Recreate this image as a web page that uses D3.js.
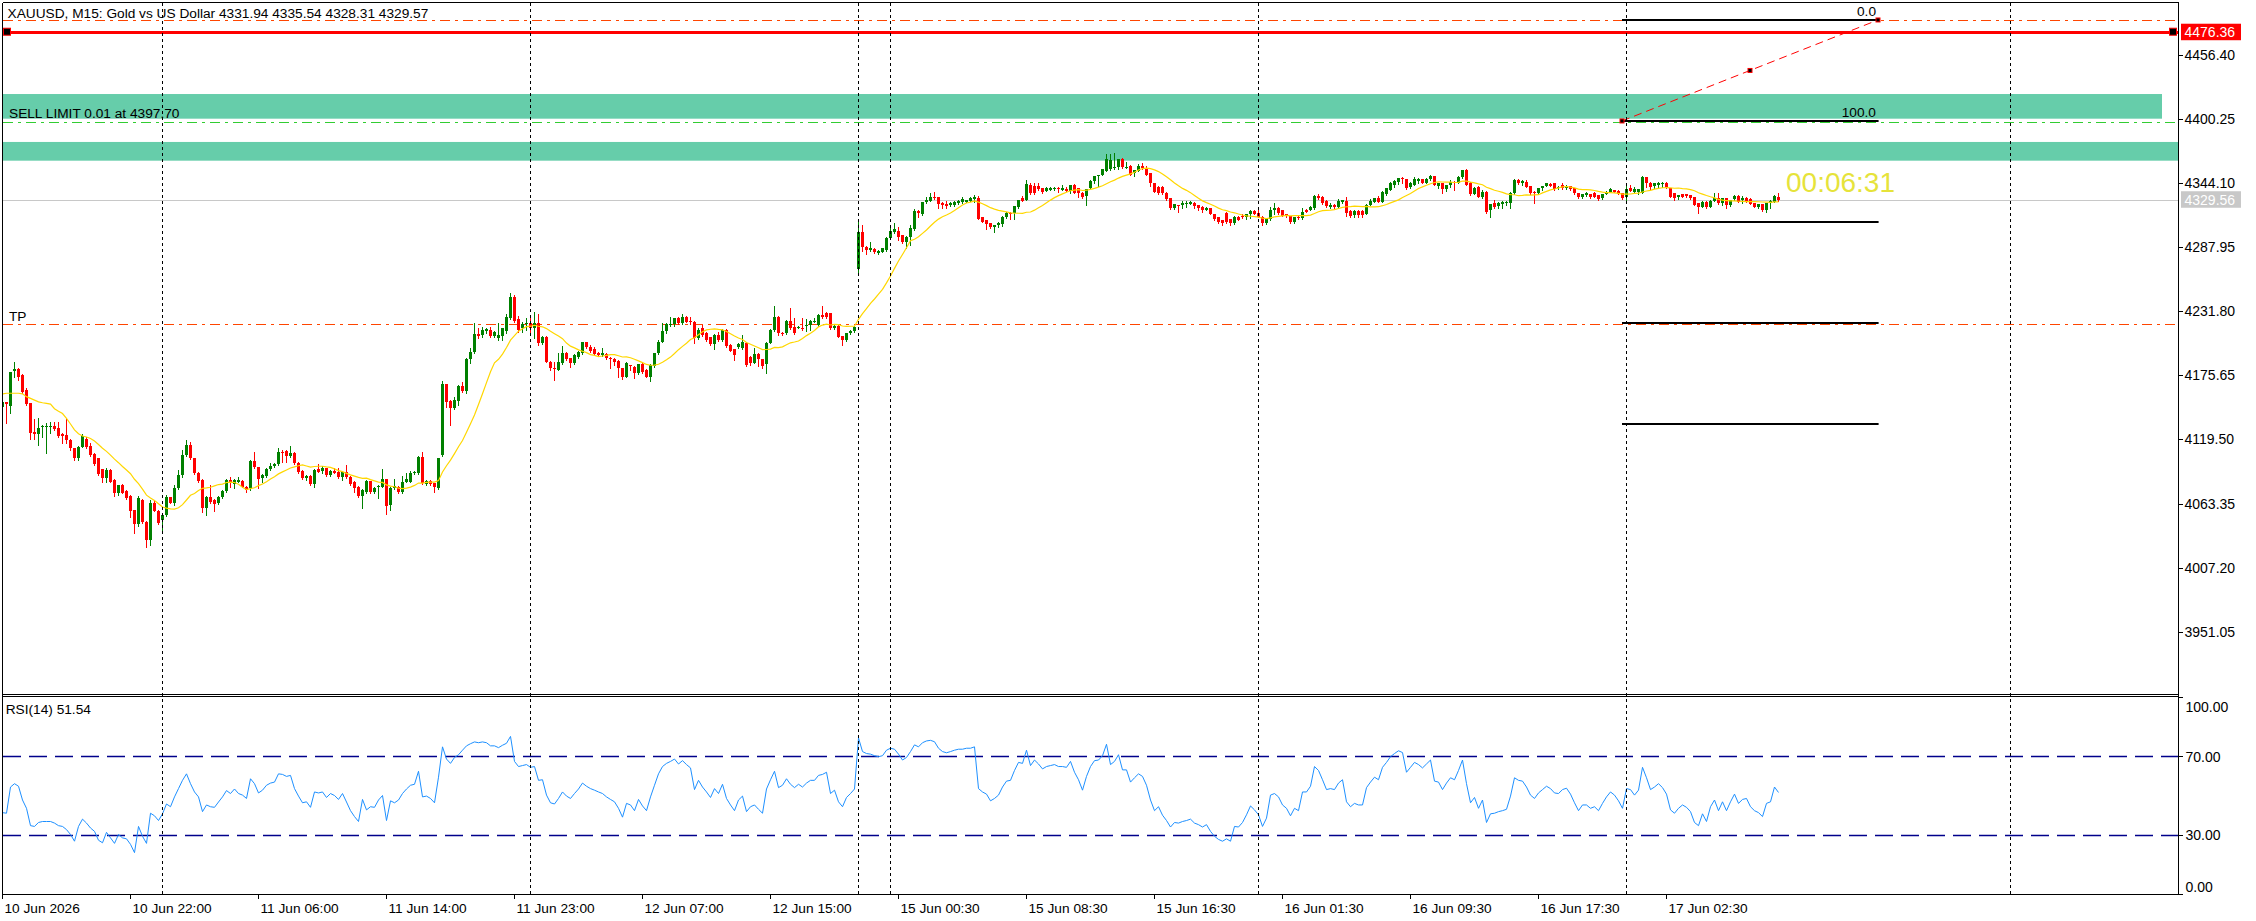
<!DOCTYPE html>
<html><head><meta charset="utf-8">
<script src="https://cdn.jsdelivr.net/npm/d3@7"></script>
<style>html,body{margin:0;padding:0;background:#fff;overflow:hidden}</style>
</head><body>
<svg id="c" width="2256" height="921"></svg>
<script>
// ---------------- DATA ----------------
const symbolTitle = "XAUUSD, M15:  Gold vs US Dollar  4331.94 4335.54 4328.31 4329.57";
// M15 candles [open, high, low, close]
const ohlc = [
[4148.2,4153.5,4147.3,4152.6],[4152.0,4152.6,4134.2,4150.5],[4149.1,4179.0,4143.0,4178.6],[4179.7,4187.3,4174.5,4180.9],[4181.5,4182.0,4171.6,4174.5],
[4176.2,4176.5,4160.0,4160.8],[4162.8,4164.3,4150.0,4150.8],[4151.1,4151.5,4119.6,4125.4],[4125.9,4137.1,4119.6,4124.2],[4124.2,4138.3,4114.6,4129.5],
[4130.1,4132.5,4121.9,4131.6],[4130.7,4134.2,4107.9,4131.0],[4130.7,4135.1,4125.4,4131.0],[4131.0,4135.1,4127.5,4128.3],[4129.5,4135.1,4121.3,4122.5],
[4124.2,4124.8,4116.1,4122.5],[4123.4,4137.1,4116.1,4119.0],[4119.0,4119.6,4110.2,4111.7],[4111.7,4112.0,4101.5,4102.9],[4102.9,4114.0,4101.5,4113.1],
[4113.1,4124.2,4112.5,4122.5],[4119.6,4122.0,4112.0,4113.1],[4114.0,4116.1,4105.0,4105.8],[4106.7,4107.5,4097.0,4097.9],[4102.9,4103.5,4088.0,4089.2],
[4093.3,4094.0,4082.5,4085.4],[4085.4,4094.2,4082.5,4092.7],[4092.7,4093.5,4082.0,4082.5],[4083.9,4084.5,4069.9,4072.8],[4072.8,4080.0,4070.8,4079.6],
[4079.6,4080.5,4072.2,4072.8],[4074.6,4075.5,4067.0,4067.9],[4069.9,4070.5,4051.2,4057.1],[4057.6,4058.0,4037.2,4045.4],[4045.4,4069.9,4044.0,4067.9],
[4066.4,4067.5,4046.0,4047.4],[4047.4,4048.0,4025.5,4031.4],[4031.4,4066.4,4027.0,4063.5],[4063.5,4066.0,4056.5,4057.1],[4057.1,4057.6,4045.4,4046.0],
[4048.9,4054.1,4037.2,4053.3],[4053.3,4070.8,4052.0,4068.8],[4068.8,4069.5,4063.5,4064.1],[4064.1,4079.6,4062.0,4076.9],[4076.9,4092.7,4076.0,4088.3],
[4088.3,4110.2,4087.0,4105.8],[4105.8,4119.0,4105.0,4114.6],[4114.6,4117.5,4102.0,4102.9],[4102.9,4103.5,4089.5,4090.4],[4090.4,4091.0,4082.5,4083.1],
[4083.9,4084.5,4056.2,4059.1],[4059.1,4070.0,4053.3,4068.8],[4068.8,4079.6,4064.0,4065.0],[4066.4,4067.0,4057.1,4062.9],[4064.1,4070.0,4063.0,4069.3],
[4069.3,4075.0,4068.5,4074.3],[4074.3,4085.0,4073.7,4083.9],[4083.9,4086.9,4078.1,4081.0],[4080.4,4084.5,4076.6,4083.9],[4082.5,4086.9,4082.0,4083.9],
[4083.1,4084.0,4077.5,4078.1],[4078.1,4078.7,4073.1,4075.2],[4076.6,4101.5,4075.5,4100.6],[4100.6,4108.2,4094.5,4095.0],[4095.0,4095.5,4076.6,4084.5],
[4085.4,4089.0,4082.5,4088.3],[4087.4,4094.5,4086.5,4093.9],[4093.9,4098.9,4093.0,4096.0],[4096.0,4099.0,4095.0,4098.3],[4097.7,4111.7,4097.0,4108.2],
[4108.8,4110.0,4100.0,4108.2],[4109.3,4110.0,4100.0,4104.8],[4104.8,4114.0,4104.0,4107.9],[4107.9,4108.5,4098.0,4098.6],[4099.1,4099.5,4090.5,4091.2],
[4092.1,4092.7,4084.5,4085.4],[4085.4,4088.0,4083.9,4087.4],[4087.4,4088.0,4079.5,4080.4],[4080.4,4093.3,4078.1,4092.7],[4093.3,4098.0,4091.0,4091.2],
[4092.1,4096.2,4090.4,4094.2],[4094.2,4094.8,4087.5,4088.3],[4088.3,4092.7,4087.5,4092.1],[4092.1,4094.2,4089.8,4090.4],[4091.2,4094.2,4086.0,4086.9],
[4086.9,4092.0,4083.9,4091.2],[4091.2,4097.1,4086.0,4086.9],[4086.9,4087.5,4079.8,4080.4],[4082.5,4083.0,4073.1,4076.6],[4078.1,4078.7,4069.3,4070.2],
[4070.2,4076.0,4059.1,4075.2],[4073.7,4083.9,4072.8,4083.1],[4083.1,4083.5,4072.5,4073.1],[4073.1,4077.5,4072.2,4076.6],[4077.5,4079.5,4068.0,4078.7],
[4078.1,4093.3,4077.5,4084.5],[4084.5,4085.0,4054.1,4061.2],[4062.0,4077.5,4057.6,4076.6],[4076.6,4084.5,4076.0,4078.7],[4078.1,4078.7,4073.0,4073.7],
[4073.7,4087.4,4073.0,4082.5],[4082.5,4089.8,4082.0,4084.5],[4082.5,4092.1,4082.0,4089.8],[4089.8,4092.0,4089.0,4091.2],[4089.8,4105.0,4089.0,4104.4],
[4104.4,4108.2,4080.4,4081.0],[4080.4,4084.0,4080.0,4083.4],[4083.1,4083.9,4079.8,4080.4],[4081.0,4081.5,4073.1,4077.5],[4076.6,4103.5,4076.0,4102.9],
[4105.8,4171.0,4105.0,4168.1],[4168.1,4168.5,4148.0,4152.6],[4153.5,4154.0,4132.1,4147.3],[4147.3,4156.4,4146.5,4154.0],[4153.5,4167.2,4149.7,4166.3],
[4166.3,4170.1,4161.0,4161.9],[4161.9,4190.5,4160.0,4189.7],[4189.7,4199.3,4186.8,4196.4],[4196.4,4221.3,4195.5,4211.9],[4211.9,4216.9,4208.1,4210.1],
[4211.0,4218.3,4209.0,4215.4],[4214.8,4217.5,4213.0,4216.0],[4215.4,4218.3,4209.6,4210.1],[4210.1,4214.5,4209.0,4213.9],[4208.1,4221.2,4206.6,4211.0],
[4210.1,4217.5,4206.6,4216.9],[4214.8,4229.1,4213.0,4227.1],[4225.6,4247.5,4225.0,4244.0],[4244.0,4246.1,4222.0,4223.6],[4224.8,4227.7,4214.0,4215.4],
[4216.9,4222.0,4213.9,4220.7],[4220.7,4225.6,4215.4,4221.2],[4221.2,4227.1,4212.5,4216.9],[4217.5,4231.5,4208.1,4221.8],[4221.8,4229.4,4202.0,4203.7],
[4203.7,4210.0,4203.0,4209.0],[4209.0,4210.0,4187.0,4187.7],[4187.7,4188.0,4180.3,4181.8],[4182.4,4187.7,4171.6,4180.9],[4180.3,4194.9,4180.0,4187.7],
[4186.8,4201.4,4186.0,4195.5],[4195.5,4196.0,4189.0,4189.7],[4190.6,4191.0,4183.3,4186.2],[4186.2,4194.0,4185.6,4193.5],[4192.0,4197.0,4191.0,4196.4],
[4194.9,4205.2,4194.4,4204.6],[4204.6,4205.2,4199.5,4200.2],[4200.8,4202.3,4196.4,4197.3],[4198.5,4200.8,4193.5,4194.4],[4194.9,4196.0,4192.6,4193.5],
[4193.5,4199.3,4193.0,4194.9],[4194.4,4195.0,4190.0,4190.6],[4191.2,4191.5,4182.4,4189.7],[4190.0,4190.6,4184.7,4187.7],[4188.3,4189.0,4174.5,4181.8],
[4181.8,4182.4,4172.2,4173.9],[4174.5,4187.7,4174.0,4186.8],[4184.4,4184.7,4180.3,4183.9],[4183.3,4183.9,4173.0,4177.4],[4177.4,4186.0,4177.0,4185.3],
[4185.3,4186.2,4178.0,4178.9],[4180.3,4181.0,4174.0,4174.5],[4174.5,4185.3,4171.0,4184.7],[4183.9,4195.5,4183.0,4194.9],[4194.9,4206.6,4194.4,4205.2],
[4205.2,4221.2,4204.6,4214.8],[4214.8,4221.2,4212.5,4220.7],[4219.8,4227.1,4219.0,4220.7],[4220.7,4226.0,4218.9,4225.6],[4225.6,4227.1,4220.5,4221.2],
[4221.2,4229.1,4220.5,4227.1],[4227.1,4228.0,4222.0,4222.7],[4223.6,4226.5,4220.7,4222.7],[4222.7,4223.3,4203.7,4208.1],[4208.1,4216.9,4207.5,4215.4],
[4216.9,4219.8,4210.5,4211.0],[4212.5,4213.9,4206.0,4206.6],[4209.0,4209.6,4202.5,4203.1],[4203.1,4211.5,4198.5,4211.0],[4211.0,4213.9,4206.0,4206.6],
[4206.6,4216.0,4206.0,4215.4],[4215.4,4216.0,4200.8,4201.4],[4202.3,4202.8,4196.8,4197.3],[4198.5,4199.0,4189.1,4193.5],[4200.8,4204.0,4200.0,4203.1],
[4199.3,4211.0,4199.0,4205.2],[4204.3,4205.0,4184.0,4184.7],[4192.0,4192.6,4184.7,4186.2],[4186.8,4199.3,4186.2,4194.4],[4194.4,4195.0,4183.9,4189.7],
[4189.7,4190.2,4181.8,4183.9],[4185.6,4205.0,4178.0,4204.3],[4204.3,4216.0,4203.7,4215.4],[4215.4,4236.4,4214.8,4227.1],[4227.1,4227.7,4211.0,4212.5],
[4213.1,4213.9,4211.0,4211.9],[4212.5,4224.0,4212.0,4223.6],[4223.6,4234.4,4216.3,4216.9],[4218.3,4225.6,4212.0,4212.5],[4217.8,4219.0,4217.0,4218.3],
[4217.5,4225.6,4215.5,4216.3],[4219.8,4224.8,4214.5,4220.1],[4219.8,4224.0,4215.4,4223.3],[4222.7,4225.6,4222.0,4223.6],[4219.8,4229.1,4219.0,4228.6],
[4228.6,4236.4,4226.0,4226.5],[4230.0,4231.0,4226.0,4226.5],[4230.0,4230.5,4216.3,4216.9],[4216.9,4219.5,4216.0,4218.9],[4218.9,4219.5,4209.0,4209.6],
[4210.1,4210.5,4202.3,4206.6],[4206.6,4213.0,4206.0,4212.5],[4212.5,4215.0,4212.0,4214.5],[4214.5,4218.9,4214.0,4218.3],[4268.6,4310.3,4263.6,4301.6],
[4301.6,4307.4,4285.0,4288.4],[4288.4,4289.0,4282.0,4285.5],[4285.5,4292.2,4285.0,4287.0],[4286.4,4287.0,4283.0,4283.5],[4283.2,4285.5,4281.7,4284.9],
[4284.1,4287.5,4283.5,4287.0],[4285.5,4296.6,4285.0,4295.7],[4295.7,4305.0,4295.0,4302.5],[4301.6,4308.9,4300.7,4303.6],[4302.5,4305.4,4294.3,4297.2],
[4298.7,4299.0,4291.4,4292.8],[4292.8,4297.5,4287.0,4297.2],[4297.2,4307.4,4289.9,4304.5],[4303.6,4321.2,4303.0,4320.0],[4320.0,4320.3,4314.1,4317.6],
[4317.1,4328.0,4316.5,4327.6],[4327.6,4332.3,4327.0,4329.3],[4328.8,4335.8,4328.5,4331.7],[4331.7,4336.6,4330.5,4330.8],[4331.7,4332.0,4322.0,4325.8],
[4327.0,4327.5,4322.0,4324.9],[4325.8,4328.8,4322.0,4324.1],[4324.9,4327.5,4324.5,4327.0],[4324.9,4328.5,4324.1,4327.9],[4326.4,4329.0,4326.0,4328.5],
[4327.6,4331.7,4327.0,4329.9],[4327.9,4329.6,4327.5,4329.3],[4328.8,4332.3,4328.5,4330.8],[4329.9,4333.7,4327.9,4331.7],[4330.8,4332.8,4312.3,4312.7],
[4314.1,4314.5,4310.0,4310.3],[4311.8,4312.0,4303.6,4308.3],[4308.9,4309.2,4304.5,4305.4],[4305.4,4307.7,4301.6,4307.4],[4307.4,4309.8,4305.4,4309.5],
[4308.3,4315.0,4306.5,4314.7],[4314.7,4319.1,4314.0,4317.6],[4318.2,4319.1,4312.4,4317.1],[4318.2,4324.5,4312.4,4324.1],[4323.5,4329.6,4322.0,4329.3],
[4330.8,4332.8,4328.5,4328.8],[4329.3,4346.9,4329.0,4343.3],[4342.5,4343.9,4335.0,4335.2],[4341.6,4344.5,4335.0,4335.2],[4341.6,4343.9,4338.4,4338.7],
[4339.6,4340.0,4335.8,4336.6],[4337.5,4341.0,4337.2,4339.6],[4338.1,4341.0,4337.8,4339.6],[4338.7,4341.0,4338.4,4340.1],[4340.1,4340.4,4336.6,4338.7],
[4338.1,4342.5,4337.8,4339.6],[4338.7,4340.4,4337.2,4337.5],[4337.5,4342.8,4335.8,4342.5],[4342.5,4343.3,4335.5,4335.8],[4339.6,4340.0,4332.3,4335.8],
[4335.8,4336.0,4330.8,4332.3],[4332.8,4339.0,4325.0,4338.7],[4339.6,4346.6,4339.3,4346.3],[4346.3,4350.7,4343.9,4350.4],[4350.4,4351.5,4341.6,4351.2],
[4351.2,4356.5,4350.9,4356.2],[4355.0,4369.6,4354.7,4365.0],[4356.2,4369.6,4355.9,4364.4],[4357.1,4370.2,4356.8,4358.5],[4358.0,4365.3,4356.2,4365.0],
[4365.0,4365.9,4357.7,4358.0],[4358.0,4362.9,4357.7,4358.5],[4359.1,4360.0,4350.9,4351.2],[4352.7,4355.9,4350.4,4355.6],[4355.0,4360.9,4354.7,4359.1],
[4359.1,4361.5,4356.8,4357.1],[4357.1,4359.1,4350.9,4351.2],[4352.7,4353.0,4341.6,4343.9],[4343.9,4344.2,4336.3,4336.6],[4340.4,4341.6,4334.9,4335.2],
[4341.0,4341.3,4334.9,4335.2],[4335.8,4336.1,4329.6,4329.9],[4330.8,4331.1,4321.7,4322.0],[4322.0,4326.1,4321.7,4325.8],[4324.9,4325.2,4319.1,4324.1],
[4324.9,4328.8,4322.0,4326.4],[4325.8,4328.8,4323.5,4327.0],[4325.8,4328.8,4325.5,4327.6],[4327.0,4327.3,4322.0,4324.1],[4324.9,4325.2,4320.6,4322.0],
[4323.5,4323.8,4319.1,4320.6],[4320.6,4322.9,4320.3,4322.0],[4322.0,4322.3,4316.8,4317.1],[4317.1,4317.4,4311.8,4312.7],[4314.1,4314.4,4309.5,4310.3],
[4311.8,4312.1,4307.4,4309.5],[4318.2,4318.5,4309.5,4310.3],[4312.4,4312.7,4307.4,4309.5],[4309.5,4315.0,4308.3,4314.7],[4314.7,4315.3,4311.5,4311.8],
[4315.3,4317.1,4313.8,4314.1],[4314.1,4317.4,4312.4,4317.1],[4317.1,4320.3,4313.3,4320.0],[4320.0,4320.6,4316.8,4317.1],[4318.2,4320.6,4314.4,4314.7],
[4314.7,4315.0,4307.4,4308.9],[4308.9,4312.7,4308.6,4312.4],[4312.4,4322.9,4312.1,4320.6],[4320.6,4326.4,4317.1,4322.0],[4322.0,4323.5,4317.3,4317.6],
[4320.6,4320.9,4315.0,4315.3],[4317.1,4317.4,4314.1,4315.3],[4315.3,4315.6,4308.9,4310.3],[4310.3,4314.4,4308.9,4314.1],[4314.7,4315.3,4313.0,4313.3],
[4313.3,4322.0,4313.0,4319.1],[4320.6,4321.2,4318.8,4319.1],[4320.6,4324.1,4320.3,4323.5],[4322.0,4333.7,4321.7,4332.8],[4332.8,4334.6,4329.9,4330.8],
[4332.3,4332.6,4325.8,4327.0],[4328.8,4329.1,4322.9,4324.1],[4322.9,4327.0,4322.6,4324.9],[4324.9,4325.8,4322.0,4323.5],[4323.5,4329.9,4323.2,4328.8],
[4327.9,4329.6,4327.0,4329.3],[4328.8,4331.7,4315.3,4317.6],[4320.0,4320.3,4314.1,4315.3],[4316.2,4320.3,4314.1,4320.0],[4320.0,4320.3,4314.7,4316.2],
[4320.0,4320.3,4314.7,4316.2],[4317.1,4325.8,4316.8,4324.9],[4324.9,4329.9,4324.6,4328.8],[4327.9,4331.1,4327.6,4330.8],[4330.8,4332.8,4327.6,4327.9],
[4327.9,4336.9,4327.6,4336.6],[4334.6,4339.9,4333.7,4339.6],[4338.1,4345.4,4337.8,4343.9],[4342.5,4346.6,4341.0,4346.3],[4345.4,4348.6,4343.3,4348.3],
[4348.3,4349.8,4344.5,4347.4],[4347.4,4347.7,4339.3,4339.6],[4340.4,4345.4,4340.1,4343.9],[4342.5,4349.2,4342.2,4347.4],[4346.3,4348.3,4343.9,4347.4],
[4347.4,4348.0,4344.2,4344.5],[4344.5,4348.3,4344.2,4347.4],[4347.4,4351.2,4347.1,4350.4],[4350.4,4350.7,4342.2,4342.5],[4341.6,4344.2,4339.6,4343.9],
[4343.9,4344.2,4335.8,4338.7],[4338.7,4342.8,4337.5,4342.5],[4342.5,4346.9,4340.4,4345.4],[4345.4,4346.3,4338.1,4344.5],[4344.5,4350.4,4344.2,4349.2],
[4349.2,4355.9,4348.9,4355.6],[4355.6,4356.2,4342.2,4342.5],[4343.9,4345.4,4333.7,4334.6],[4334.6,4341.0,4334.3,4339.6],[4341.0,4341.3,4331.7,4332.3],
[4331.7,4338.1,4331.4,4336.6],[4336.6,4336.9,4317.6,4319.1],[4320.6,4326.1,4314.1,4325.8],[4327.0,4329.3,4322.0,4323.5],[4324.1,4327.3,4322.0,4327.0],
[4325.8,4328.2,4322.0,4327.9],[4326.4,4328.2,4324.9,4327.9],[4327.0,4336.1,4322.0,4335.8],[4335.2,4347.4,4334.9,4346.9],[4346.9,4347.4,4343.6,4343.9],
[4343.9,4346.6,4342.5,4346.3],[4345.4,4346.9,4340.7,4341.0],[4341.6,4341.9,4334.6,4335.8],[4336.6,4336.9,4326.4,4335.2],[4335.8,4339.9,4334.6,4339.6],
[4339.6,4341.9,4338.1,4341.6],[4341.6,4344.2,4341.3,4343.9],[4343.3,4344.5,4341.3,4341.6],[4343.9,4344.5,4338.4,4338.7],[4339.6,4341.3,4338.7,4341.0],
[4342.5,4344.5,4339.3,4339.6],[4339.6,4342.5,4339.3,4341.0],[4341.6,4341.9,4338.4,4338.7],[4339.6,4339.9,4334.9,4335.2],[4335.2,4335.5,4331.4,4331.7],
[4331.7,4334.9,4331.4,4334.6],[4333.7,4336.1,4332.8,4335.8],[4334.6,4334.9,4331.4,4331.7],[4335.2,4336.6,4332.0,4332.3],[4333.7,4334.0,4329.6,4329.9],
[4330.8,4334.9,4330.5,4334.6],[4334.6,4337.5,4334.3,4336.6],[4336.6,4339.6,4336.3,4338.7],[4338.1,4338.4,4336.3,4336.6],[4337.5,4338.1,4334.3,4334.6],
[4335.2,4335.5,4330.5,4330.8],[4332.3,4341.6,4327.9,4338.7],[4339.6,4342.5,4337.2,4337.5],[4336.6,4341.0,4336.3,4338.7],[4336.6,4339.0,4334.6,4338.7],
[4335.8,4350.4,4335.5,4349.2],[4349.2,4349.5,4341.0,4344.5],[4344.5,4344.8,4338.7,4340.4],[4341.6,4344.2,4339.6,4343.9],[4342.5,4344.8,4341.0,4344.5],
[4343.9,4345.4,4341.0,4344.5],[4344.5,4345.4,4340.1,4340.4],[4339.6,4339.9,4331.7,4332.3],[4335.2,4335.5,4329.3,4330.8],[4331.7,4334.0,4329.9,4333.7],
[4334.6,4334.9,4332.0,4332.3],[4334.6,4334.9,4331.7,4332.8],[4333.7,4334.0,4329.9,4330.8],[4331.7,4332.0,4324.6,4324.9],[4326.4,4326.7,4318.2,4323.5],
[4323.5,4328.2,4323.2,4327.9],[4327.9,4328.2,4322.0,4323.5],[4323.5,4329.1,4323.2,4328.8],[4328.8,4335.2,4328.5,4330.8],[4330.8,4335.8,4326.1,4326.4],
[4326.4,4331.1,4324.9,4330.8],[4330.8,4331.1,4322.0,4324.9],[4324.9,4329.6,4324.1,4329.3],[4329.9,4333.7,4329.6,4332.8],[4332.8,4333.7,4327.6,4327.9],
[4329.3,4332.8,4327.0,4330.8],[4330.8,4332.3,4327.6,4327.9],[4329.9,4330.8,4325.5,4325.8],[4326.4,4326.7,4322.9,4323.5],[4323.5,4326.1,4322.0,4325.8],
[4325.8,4326.1,4320.0,4320.6],[4320.6,4326.7,4319.1,4326.4],[4326.4,4329.1,4322.0,4328.8],[4327.9,4333.7,4327.6,4332.8],[4331.94,4335.54,4328.31,4329.57]
];
// RSI(14) values read per bar
const rsiValues = [
41.3,41,54.3,56,54.7,47.7,43.5,34.7,34.3,36.3,
36.8,36.8,36.8,36,34.7,34.3,32.7,30.2,26.8,34.3,
38,36,33.5,31.8,27.3,26,31.3,28.5,25.7,30.2,
28.5,28,25.2,21,34.3,29.3,25.7,41,39.7,37.3,
40.7,45.7,44.3,49.3,53.5,57.7,61,56,51.8,49.3,
41.8,45.2,44.3,44,46.7,49.3,52.5,51,53.3,51,
50.2,48.5,58.5,56,51.3,52.7,55.2,56.3,56.8,61,
60.7,59.7,60.2,53.5,49.7,46.3,46.8,44,51.8,51.3,
51.8,49,51,50,48,51,46.7,42.3,39.3,36.8,
48,42.7,44.3,44,47.7,50,37.3,47.3,46.3,47.7,
51,53.3,55.2,55.7,62.3,49.3,49.7,48.5,46.3,59.3,
74.7,68.5,66.3,69.3,70.7,73,75.2,76.3,77.2,76.8,
77.2,76.8,75.2,75.2,74.3,75.5,76.5,80,67.3,64.7,
65.2,65.7,64.3,64.7,57.7,58,50.2,46.3,45.7,48.5,
51.8,49.7,48.5,51,53.3,56.3,54.7,53.5,52.7,51.8,
51,49.3,48,46.8,43.5,39,46,45.2,42.3,48,
44.7,42.3,49.3,55.2,61,64.7,66.3,67.3,68.5,66,
67.7,65.7,64,53,57.7,54.3,51.8,49,53.5,51,
55.7,48.5,45.2,42.3,47.7,49.7,41.8,44.3,45.2,43,
41,53.3,58,62.3,54,55.2,58.5,55.7,54,55.7,
54.3,56.3,57.7,57.7,60.2,60.7,61.8,51,52.7,46.8,
44.3,49,51,53.3,79.2,72.3,71.3,71,70.2,69.7,
70.2,73,74,73.5,71,68,69.3,72.3,75.7,74.7,
76.8,77.7,78,77.3,74,72.3,71.7,72.3,73,73.5,
73.5,74,74,74.7,53.5,51.8,50.7,47.3,48.5,50.2,
54.3,57.3,57.7,62.7,66.8,66.3,73,65.2,68,66,
63.5,64.7,65.2,65.7,64.7,64.7,64.3,67.3,61.8,58,
52.7,59.7,64.7,67.7,68,70.2,76,65.7,67.3,70.7,
63,63,56.8,59,61,59.7,55.2,47.7,42.3,44.3,
40,37.3,34,36.3,36,36.8,37.3,38,36,35.2,
34,35.2,31.8,29.3,27.7,26.8,28,26.8,34.3,34,
36.3,40.2,44.7,42.7,40.2,34.3,38.5,50.2,51,49.3,
45.2,43.5,39.7,43.5,42.3,51.8,51.8,54.7,64.7,62.7,
58,53,53.5,53,56.3,58,46.8,44.3,46,45.2,
45.2,54,56.8,59.3,58,64.3,66.8,69.7,71.3,72.7,
71.8,61.8,64.3,66.8,65.7,64,66,68,57.3,56.8,
53,56.3,59,58,62.7,68,56,46.3,49,43.5,
47.7,36.3,40.7,41,41.8,42.3,43,49.7,59,57.7,
57.3,54.3,50.2,48.5,51.3,53,54.7,53.5,51.3,51,
53,53.7,50.7,46.3,42.3,45.2,45.2,43.5,44.3,42.3,
46,49.3,51.8,50.2,47.3,43.5,53.5,53,50.2,52.7,
64.3,59,53,54.3,56,54,50.7,42.7,41,43.5,
45.2,44,41.8,36.3,34.7,40.7,36.8,44.3,47.7,42.3,
46.8,42.3,46.8,50.7,46,48,48.5,44.3,42.3,41.3,
39.3,46,46.8,54.3,51.54
];
// moving-average values visible before a full 14-bar window exists
const maHead = [4159.3,4160,4160,4160,4160,4159.5,4157,4155.5,4154,4152.5,4151.7,4151.2,4150.5];
const maPeriod = 14;
const priceTicks = [4456.40,4400.25,4344.10,4287.95,4231.80,4175.65,4119.50,4063.35,4007.20,3951.05];
const rsiTicks = [100,70,30,0];
const rsiLevels = [70,30];
const timeBars = [0,32,64,96,128,160,192,224,256,288,320,352,384,416];
const timeLabels = ["10 Jun 2026","10 Jun 22:00","11 Jun 06:00","11 Jun 14:00","11 Jun 23:00","12 Jun 07:00","12 Jun 15:00","15 Jun 00:30","15 Jun 08:30","15 Jun 16:30","16 Jun 01:30","16 Jun 09:30","16 Jun 17:30","17 Jun 02:30"];
const separatorBars = [40,132,214,222,314,406,502];
const zonePrices = [[4422.2,4400.6,540],[4380.2,4363.8,600]]; // [top, bottom, endBar]
const slPrice = 4487.0, tpPrice = 4220.9, sellLimitPrice = 4397.70, hLinePrice = 4476.36, bidPrice = 4329.56;
const fibBars = [405,469];
const fibPrices = [4398.6,4487.1]; // 100 level, 0 level
const fibLevels = [0,100,200,300,400];
const fibLabels = ["0.0","100.0","","",""];
const countdown = "00:06:31";
const rsiTitle = "RSI(14) 51.54";
const orderText = "SELL LIMIT 0.01 at 4397.70";

// ---------------- CHART ----------------
const W=2256, H=921;
const AX=2178.5, L=2.5, T=2.5, MB=694.5, RT=696.5, RB=894.5;
const F="'Liberation Sans', Arial, sans-serif";
const svg=d3.select('#c');
svg.append('rect').attr('width',W).attr('height',H).attr('fill','#fff');

const x=d3.scaleLinear().domain([0,444]).range([2,1778]);
const y=d3.scaleLinear().domain([3951.05,4456.40]).range([631.7,55]);
const yr=d3.scaleLinear().domain([0,100]).range([894,697]);
const px=i=>x(i)+0.5;

const defs=svg.append('defs');
defs.append('clipPath').attr('id','cm').append('rect').attr('x',3).attr('y',3).attr('width',AX-3).attr('height',MB-3);
defs.append('clipPath').attr('id','cr').append('rect').attr('x',3).attr('y',RT+0.5).attr('width',AX-3).attr('height',RB-RT-1);

const gm=svg.append('g').attr('clip-path','url(#cm)');
const gr=svg.append('g').attr('clip-path','url(#cr)');

// zones
gm.selectAll('rect.zone').data(zonePrices).join('rect')
  .attr('x',3).attr('y',d=>y(d[0])).attr('width',d=>Math.min(x(d[2]),AX)-3).attr('height',d=>y(d[1])-y(d[0]))
  .attr('fill','#66cdaa');

// day separators
svg.append('g').selectAll('line').data(separatorBars).join('line')
  .attr('x1',d=>px(d)).attr('x2',d=>px(d)).attr('y1',3).attr('y2',894)
  .attr('stroke','#000').attr('stroke-width',1).attr('stroke-dasharray','3,3').attr('shape-rendering','crispEdges');

// horizontal levels
function hline(g,p,color,dash,w){
  g.append('line').attr('x1',3).attr('x2',AX).attr('y1',Math.round(y(p))+0.5).attr('y2',Math.round(y(p))+0.5)
   .attr('stroke',color).attr('stroke-width',w||1).attr('stroke-dasharray',dash||null).attr('shape-rendering','crispEdges');
}
hline(gm,bidPrice,'#c8c8c8');
hline(gm,slPrice,'#ff4500','10,5,3,5');
hline(gm,tpPrice,'#ff4500','10,5,3,5');
hline(gm,sellLimitPrice,'#32cd32','10,5,3,5');

// candles
const bull='#008000', bear='#ff0000';
const cg=gm.append('g').attr('shape-rendering','crispEdges');
cg.selectAll('line').data(ohlc).join('line')
  .attr('x1',(d,i)=>px(i)).attr('x2',(d,i)=>px(i))
  .attr('y1',d=>Math.round(y(d[1]))).attr('y2',d=>Math.round(y(d[2]))+1)
  .attr('stroke',d=>d[3]>=d[0]?bull:bear);
cg.selectAll('rect').data(ohlc).join('rect')
  .attr('x',(d,i)=>x(i)-1).attr('width',3)
  .attr('y',d=>Math.round(y(Math.max(d[0],d[3]))))
  .attr('height',d=>Math.max(1,Math.round(y(Math.min(d[0],d[3])))-Math.round(y(Math.max(d[0],d[3])))))
  .attr('fill',d=>d[3]>=d[0]?bull:bear);

// moving average of closes
const closes=ohlc.map(d=>d[3]);
const ma=closes.map((c,i)=> i<maPeriod-1 ? maHead[i] : d3.mean(closes.slice(i-maPeriod+1,i+1)));
gm.append('path').datum(ma).attr('fill','none').attr('stroke','#ffd700').attr('stroke-width',1.2)
  .attr('d',d3.line().x((d,i)=>px(i)).y(d=>y(d)));

// red horizontal line object
hline(gm,hLinePrice,'#ff0000',null,3);
const hy=y(hLinePrice);
[[3,hy-4],[AX-9.5,hy-4]].forEach(p=>svg.append('rect').attr('x',p[0]+0.5).attr('y',p[1]).attr('width',7).attr('height',7)
  .attr('fill','#000').attr('stroke','#ff0000').attr('stroke-width',1));

// fibonacci
const fib0=fibPrices[1], fib100=fibPrices[0];
const fg=gm.append('g');
fg.selectAll('line').data(fibLevels).join('line')
  .attr('x1',x(fibBars[0])).attr('x2',x(fibBars[1])+0.6)
  .attr('y1',l=>y(fib0-(fib0-fib100)*l/100)).attr('y2',l=>y(fib0-(fib0-fib100)*l/100))
  .attr('stroke','#000').attr('stroke-width',2);
fg.selectAll('text').data(fibLevels).join('text')
  .attr('x',x(fibBars[1])-2).attr('y',l=>y(fib0-(fib0-fib100)*l/100)-4)
  .attr('text-anchor','end').attr('font-family',F).attr('font-size','13.7px').attr('fill','#000')
  .text((l,i)=>fibLabels[i]);
fg.append('line').attr('x1',x(fibBars[0])).attr('y1',y(fib100)).attr('x2',x(fibBars[1])).attr('y2',y(fib0))
  .attr('stroke','#ff0000').attr('stroke-width',1).attr('stroke-dasharray','8,5');
const midBar=(fibBars[0]+fibBars[1])/2, midP=(fib0+fib100)/2;
[[fibBars[0],fib100],[midBar,midP],[fibBars[1],fib0]].forEach(p=>
  fg.append('rect').attr('x',x(p[0])-2).attr('y',y(p[1])-2).attr('width',4).attr('height',4)
   .attr('fill','#000').attr('stroke','#ff0000').attr('stroke-width',1));

// texts on main chart
svg.append('text').attr('x',7.5).attr('y',18.3).attr('font-family',F).attr('font-size','13.7px').attr('fill','#000').text(symbolTitle);
svg.append('text').attr('x',9).attr('y',118).attr('font-family',F).attr('font-size','13.7px').attr('fill','#000').text(orderText);
svg.append('text').attr('x',9).attr('y',320.5).attr('font-family',F).attr('font-size','13.7px').attr('fill','#000').text('TP');
svg.append('text').attr('x',1786).attr('y',191.5).attr('font-family',F).attr('font-size','28px').attr('fill','#e6e33a').text(countdown);

// RSI panel
gr.selectAll('line.lvl').data(rsiLevels).join('line')
  .attr('x1',3).attr('x2',AX).attr('y1',d=>Math.round(yr(d))+0.5).attr('y2',d=>Math.round(yr(d))+0.5)
  .attr('stroke','#00008b').attr('stroke-width',1.5).attr('stroke-dasharray','18,8');
gr.append('path').datum(rsiValues).attr('fill','none').attr('stroke','#1e90ff').attr('stroke-width',1)
  .attr('d',d3.line().x((d,i)=>px(i)).y(d=>yr(d)));
svg.append('text').attr('x',5.7).attr('y',714).attr('font-family',F).attr('font-size','13.7px').attr('fill','#000').text(rsiTitle);

// frames
const fr=svg.append('g').attr('stroke','#000').attr('stroke-width',1).attr('shape-rendering','crispEdges');
[[L,T,AX,T],[L,T,L,RB],[AX,T,AX,RB],[L,MB,AX,MB],[L,RT,AX,RT],[L,RB,AX,RB]].forEach(s=>
  fr.append('line').attr('x1',s[0]).attr('y1',s[1]).attr('x2',s[2]).attr('y2',s[3]));

// price axis
const pa=svg.append('g').attr('transform',`translate(${AX},0)`)
  .call(d3.axisRight(y).tickValues(priceTicks).tickFormat(d3.format('.2f')).tickSize(4).tickPadding(2));
pa.select('.domain').remove();
pa.selectAll('line').attr('stroke','#000').attr('shape-rendering','crispEdges');
pa.selectAll('text').attr('font-family',F).attr('font-size','14px').attr('fill','#000');

// price label boxes
function priceBox(p,fill,color){
  const yy=y(p);
  svg.append('rect').attr('x',2181).attr('y',yy-8.5).attr('width',60).attr('height',16.5).attr('fill',fill);
  svg.append('text').attr('x',2184.5).attr('y',yy+5).attr('font-family',F).attr('font-size','14px').attr('fill',color).text(d3.format('.2f')(p));
}
priceBox(hLinePrice,'#ff0000','#fff');
priceBox(bidPrice,'#c8c8c8','#fff');

// RSI axis
const ra=svg.append('g').attr('transform',`translate(${AX},0)`)
  .call(d3.axisRight(yr).tickValues(rsiTicks).tickFormat(d3.format('.2f')).tickSize(4).tickPadding(3));
ra.select('.domain').remove();
ra.selectAll('line').attr('stroke','#000').attr('shape-rendering','crispEdges');
ra.selectAll('text').attr('font-family',F).attr('font-size','14px').attr('fill','#000')
  .attr('dy',d=>d===100?'1.0em':(d===0?'-0.18em':'0.36em'));

// time axis
const ta=svg.append('g').attr('transform',`translate(0,${RB})`)
  .call(d3.axisBottom(x).tickValues(timeBars).tickFormat((d,i)=>timeLabels[i]).tickSize(4).tickPadding(0));
ta.select('.domain').remove();
ta.selectAll('.tick').attr('transform',d=>`translate(${px(d)},0)`);
ta.selectAll('line').attr('stroke','#000').attr('shape-rendering','crispEdges');
ta.selectAll('text').attr('font-family',F).attr('font-size','13.7px').attr('fill','#000')
  .attr('text-anchor','start').attr('x',2).attr('y',18).attr('dy',null);
</script>
</body></html>
